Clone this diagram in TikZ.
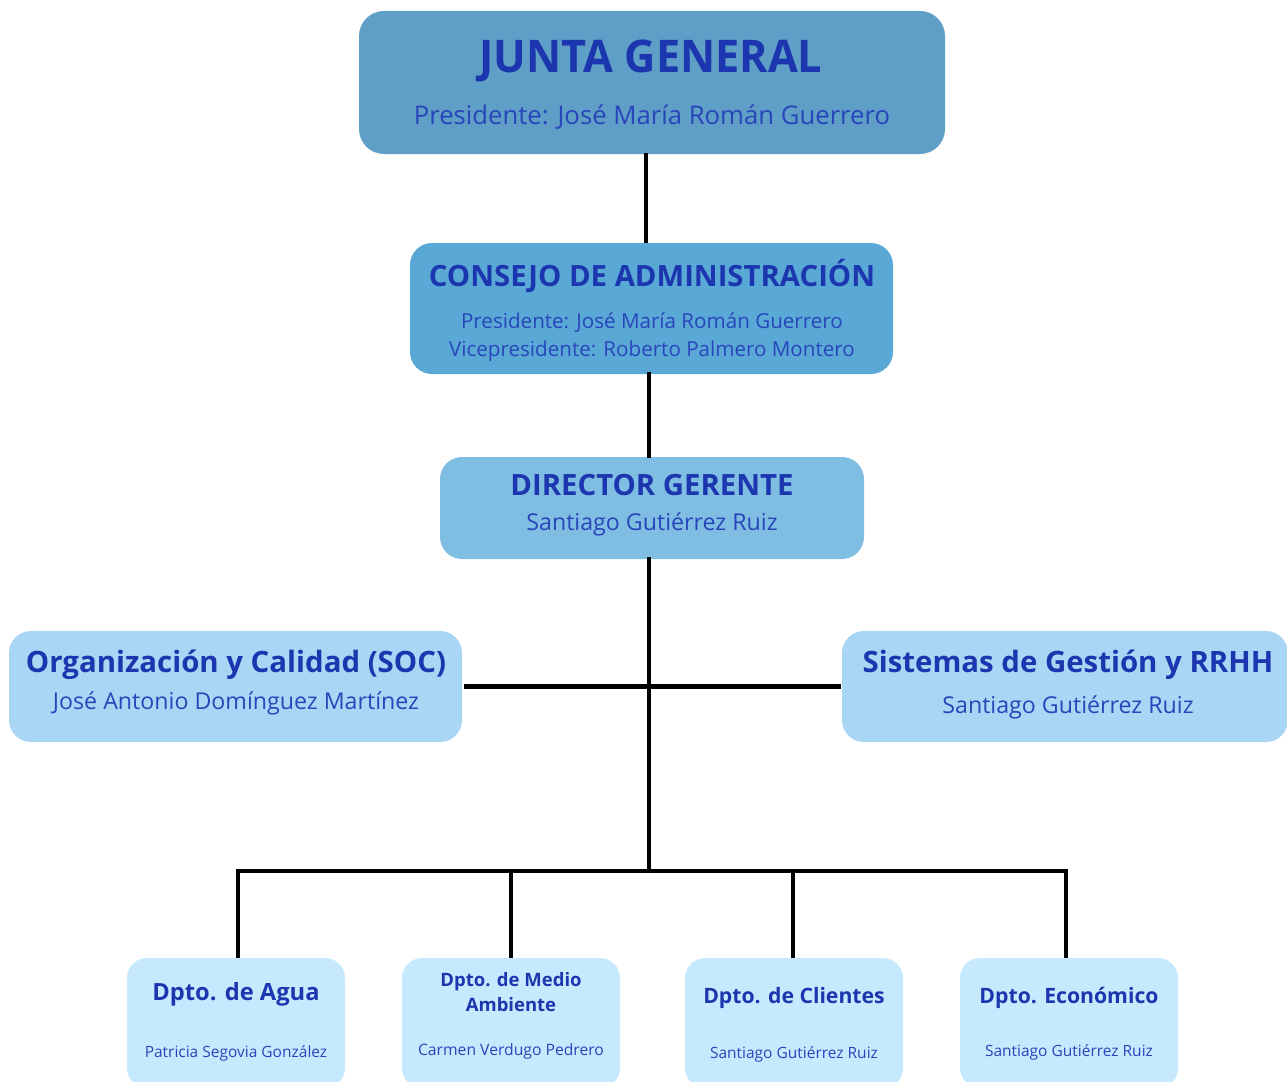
\documentclass[tikz,border=0pt]{standalone}
\usepackage{fontspec}
\setmainfont{Open Sans}
\usepackage{graphicx}
\definecolor{cJunta}{HTML}{5F9EC6}
\definecolor{cConsejo}{HTML}{5AA8D6}
\definecolor{cDir}{HTML}{80BDE2}
\definecolor{cMid}{HTML}{A8D6F4}
\definecolor{cDept}{HTML}{C6E9FE}
\definecolor{cTitle}{HTML}{1B36AE}
\definecolor{cSub}{HTML}{2846BA}
\begin{document}
\begin{tikzpicture}[x=1pt,y=-1pt,
  box/.style={draw=none,rounded corners=#1,inner sep=0pt,outer sep=0pt},
  box/.default=22pt,
  ttl/.style={anchor=base,inner sep=0pt,text=cTitle,font=\bfseries},
  sub/.style={anchor=base,inner sep=0pt,text=cSub},
  conn/.style={line width=4.6pt,black}]
\useasboundingbox (0,0) rectangle (1287,1081);
% boxes
\node[box=25pt,fill=cJunta,minimum width=586pt,minimum height=143pt] (junta) at (652,82.5) {};
\node[box,fill=cConsejo,minimum width=483pt,minimum height=131pt] (consejo) at (651.5,308.5) {};
\node[box,fill=cDir,minimum width=424pt,minimum height=102pt] (dir) at (652,508) {};
\node[box,fill=cMid,minimum width=453pt,minimum height=111pt] (org) at (235.5,686.5) {};
\node[box,fill=cMid,minimum width=446pt,minimum height=111pt] (sis) at (1065,686.5) {};
\node[box=20pt,fill=cDept,minimum width=218pt,minimum height=130pt] (agua) at (236,1023) {};
\node[box=20pt,fill=cDept,minimum width=218pt,minimum height=130pt] (medio) at (511,1023) {};
\node[box=20pt,fill=cDept,minimum width=218pt,minimum height=130pt] (cli) at (794,1023) {};
\node[box=20pt,fill=cDept,minimum width=218pt,minimum height=130pt] (eco) at (1069,1023) {};
% texts
\node[ttl,font=\fontsize{45}{54}\bfseries\selectfont] (tJ) at (651,72) {\scalebox{0.96}[1]{JUNTA GENERAL}};
\node[sub,font=\fontsize{25.7}{32}\selectfont] (sJ) at (652,124) {Presidente: José María Román Guerrero};
\node[ttl,font=\fontsize{29.3}{35}\bfseries\selectfont] (tC) at (652,286) {CONSEJO DE ADMINISTRACIÓN};
\node[sub,font=\fontsize{20.6}{28}\selectfont] (sC1) at (652,328) {Presidente: José María Román Guerrero};
\node[sub,font=\fontsize{20.6}{28}\selectfont] (sC2) at (652,356) {Vicepresidente: Roberto Palmero Montero};
\node[ttl,font=\fontsize{29.3}{35}\bfseries\selectfont] (tD) at (652,495) {DIRECTOR GERENTE};
\node[sub,font=\fontsize{23.2}{29}\selectfont] (sD) at (652,530) {Santiago Gutiérrez Ruiz};
\node[ttl,font=\fontsize{29.4}{36}\bfseries\selectfont] (tO) at (236,672) {Organización y Calidad (SOC)};
\node[sub,font=\fontsize{23.2}{29}\selectfont] (sO) at (236,709) {José Antonio Domínguez Martínez};
\node[ttl,font=\fontsize{29.4}{36}\bfseries\selectfont] (tS) at (1068,672) {Sistemas de Gestión y RRHH};
\node[sub,font=\fontsize{23.2}{29}\selectfont] (sS) at (1068,713) {Santiago Gutiérrez Ruiz};
\node[ttl,font=\fontsize{23.7}{28}\bfseries\selectfont] (tA) at (236,1000) {Dpto. de Agua};
\node[sub,font=\fontsize{15.5}{20}\selectfont] (sA) at (236,1057) {Patricia Segovia González};
\node[ttl,font=\fontsize{18.5}{25}\bfseries\selectfont] (tM1) at (511,986) {Dpto. de Medio};
\node[ttl,font=\fontsize{18.5}{25}\bfseries\selectfont] (tM2) at (511,1011) {Ambiente};
\node[sub,font=\fontsize{15.7}{20}\selectfont] (sM) at (511,1055) {Carmen Verdugo Pedrero};
\node[ttl,font=\fontsize{21.2}{27}\bfseries\selectfont] (tCl) at (794,1003) {Dpto. de Clientes};
\node[sub,font=\fontsize{15.5}{20}\selectfont] (sCl) at (794,1058) {Santiago Gutiérrez Ruiz};
\node[ttl,font=\fontsize{21.2}{27}\bfseries\selectfont] (tE) at (1069,1003) {Dpto. Económico};
\node[sub,font=\fontsize{15.5}{20}\selectfont] (sE) at (1069,1056) {Santiago Gutiérrez Ruiz};
% connectors
\coordinate (bus) at (649,871);
\coordinate (bA) at (238,871);
\coordinate (bM) at (511,871);
\coordinate (bC) at (793,871);
\coordinate (bE) at (1066,871);
\coordinate (jtop) at ([xshift=-6pt,yshift=1pt]junta.south);
\draw[conn] (jtop) -- (jtop |- consejo.north);
\draw[conn] ([xshift=-2.5pt,yshift=2pt]consejo.south) -- ([xshift=-2.5pt,yshift=-1pt]consejo.south |- dir.north);
\draw[conn] ([xshift=-3pt,yshift=2pt]dir.south) -- (bus);
\draw[conn] ([xshift=2pt]org.east) -- ([xshift=-1pt]sis.west);
\draw[conn] ([xshift=-2.3pt]bA) -- ([xshift=2.3pt]bE);
\draw[conn] (bA) -- (bA |- agua.north);
\draw[conn] (bM) -- (bM |- medio.north);
\draw[conn] (bC) -- (bC |- cli.north);
\draw[conn] (bE) -- (bE |- eco.north);
\end{tikzpicture}
\end{document}
